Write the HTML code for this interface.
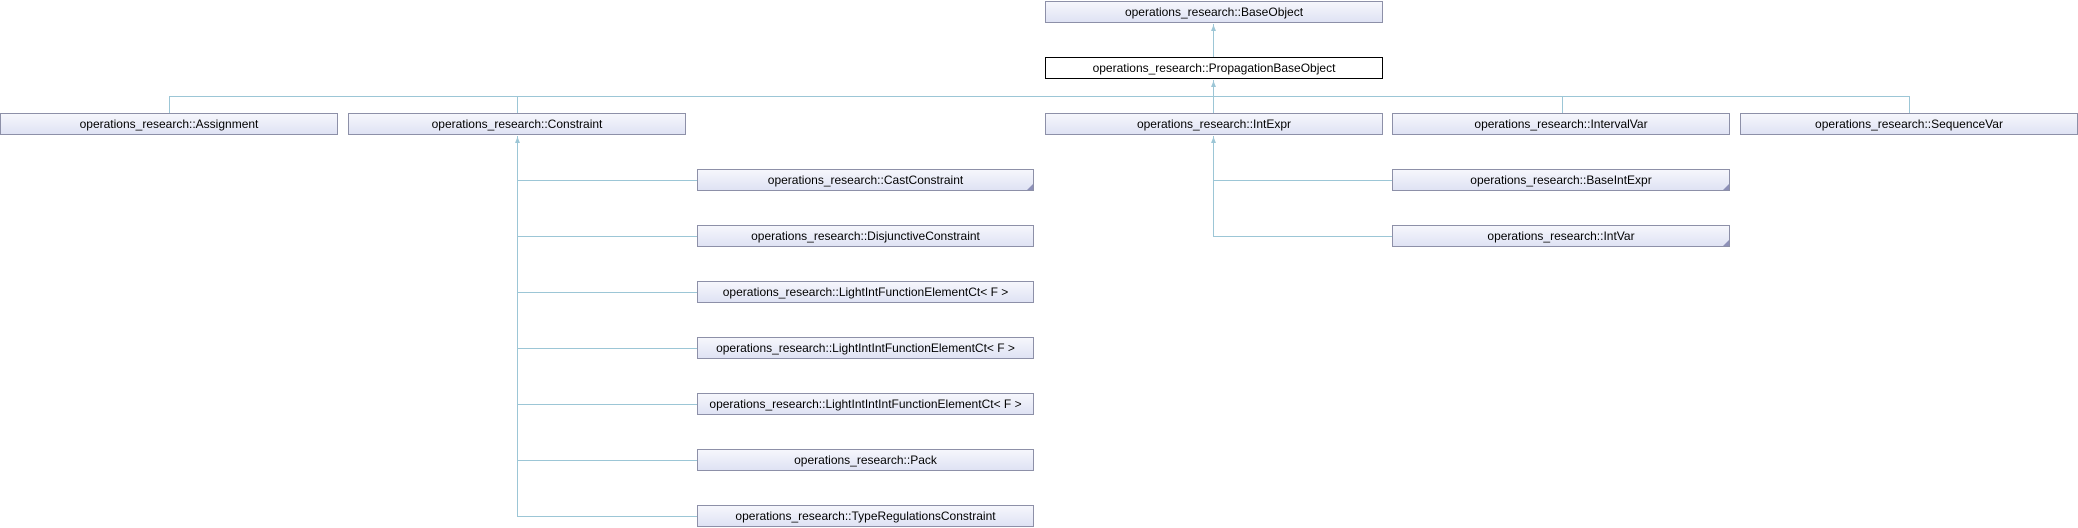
<!DOCTYPE html>
<html><head><meta charset="utf-8"><style>
html,body{margin:0;padding:0;background:#fff;}
body{width:2078px;height:528px;position:relative;overflow:hidden;font-family:"Liberation Sans",Arial,sans-serif;}
.b{position:absolute;height:22px;box-sizing:border-box;border:1px solid #8d90a8;background:linear-gradient(#f6f7fc,#dfe3f4);font-size:12px;line-height:21px;text-align:center;color:#000;white-space:nowrap;}
.w{background:#fff;border:1px solid #000;}
.c::after{content:"";position:absolute;right:0;bottom:0;width:0;height:0;border-left:6px solid transparent;border-bottom:6px solid #8d90b8;}
svg{position:absolute;left:0;top:0;}
</style></head><body>
<svg width="2078" height="528">
<g stroke="#9cc6d6" stroke-width="1" fill="none">
<line x1="1213.5" y1="24" x2="1213.5" y2="57"/>
<line x1="1213.5" y1="80" x2="1213.5" y2="113"/>
<line x1="169.5" y1="96.5" x2="1909.5" y2="96.5"/>
<line x1="169.5" y1="96" x2="169.5" y2="113"/>
<line x1="517.5" y1="96" x2="517.5" y2="113"/>
<line x1="1562.5" y1="96" x2="1562.5" y2="113"/>
<line x1="1909.5" y1="96" x2="1909.5" y2="113"/>
<line x1="517.5" y1="136" x2="517.5" y2="516"/>
<line x1="517" y1="180.5" x2="697" y2="180.5"/>
<line x1="517" y1="236.5" x2="697" y2="236.5"/>
<line x1="517" y1="292.5" x2="697" y2="292.5"/>
<line x1="517" y1="348.5" x2="697" y2="348.5"/>
<line x1="517" y1="404.5" x2="697" y2="404.5"/>
<line x1="517" y1="460.5" x2="697" y2="460.5"/>
<line x1="517" y1="516.5" x2="697" y2="516.5"/>
<line x1="1213.5" y1="136" x2="1213.5" y2="236"/>
<line x1="1213" y1="180.5" x2="1392" y2="180.5"/>
<line x1="1213" y1="236.5" x2="1392" y2="236.5"/>
</g>
<g fill="#9cc6d6">
<polygon points="1213.5,25 1211,31 1216,31"/>
<polygon points="1213.5,81 1211,87 1216,87"/>
<polygon points="517.5,137 515,143 520,143"/>
<polygon points="1213.5,137 1211,143 1216,143"/>
</g>
</svg>
<div class="b" style="left:1045px;top:1px;width:338px;">operations_research::BaseObject</div>
<div class="b w" style="left:1045px;top:57px;width:338px;">operations_research::PropagationBaseObject</div>
<div class="b" style="left:0;top:113px;width:338px;">operations_research::Assignment</div>
<div class="b" style="left:348px;top:113px;width:338px;">operations_research::Constraint</div>
<div class="b" style="left:1045px;top:113px;width:338px;">operations_research::IntExpr</div>
<div class="b" style="left:1392px;top:113px;width:338px;">operations_research::IntervalVar</div>
<div class="b" style="left:1740px;top:113px;width:338px;">operations_research::SequenceVar</div>
<div class="b c" style="left:697px;top:169px;width:337px;">operations_research::CastConstraint</div>
<div class="b" style="left:697px;top:225px;width:337px;">operations_research::DisjunctiveConstraint</div>
<div class="b" style="left:697px;top:281px;width:337px;">operations_research::LightIntFunctionElementCt&lt; F &gt;</div>
<div class="b" style="left:697px;top:337px;width:337px;">operations_research::LightIntIntFunctionElementCt&lt; F &gt;</div>
<div class="b" style="left:697px;top:393px;width:337px;">operations_research::LightIntIntIntFunctionElementCt&lt; F &gt;</div>
<div class="b" style="left:697px;top:449px;width:337px;">operations_research::Pack</div>
<div class="b" style="left:697px;top:505px;width:337px;">operations_research::TypeRegulationsConstraint</div>
<div class="b c" style="left:1392px;top:169px;width:338px;">operations_research::BaseIntExpr</div>
<div class="b c" style="left:1392px;top:225px;width:338px;">operations_research::IntVar</div>
</body></html>
